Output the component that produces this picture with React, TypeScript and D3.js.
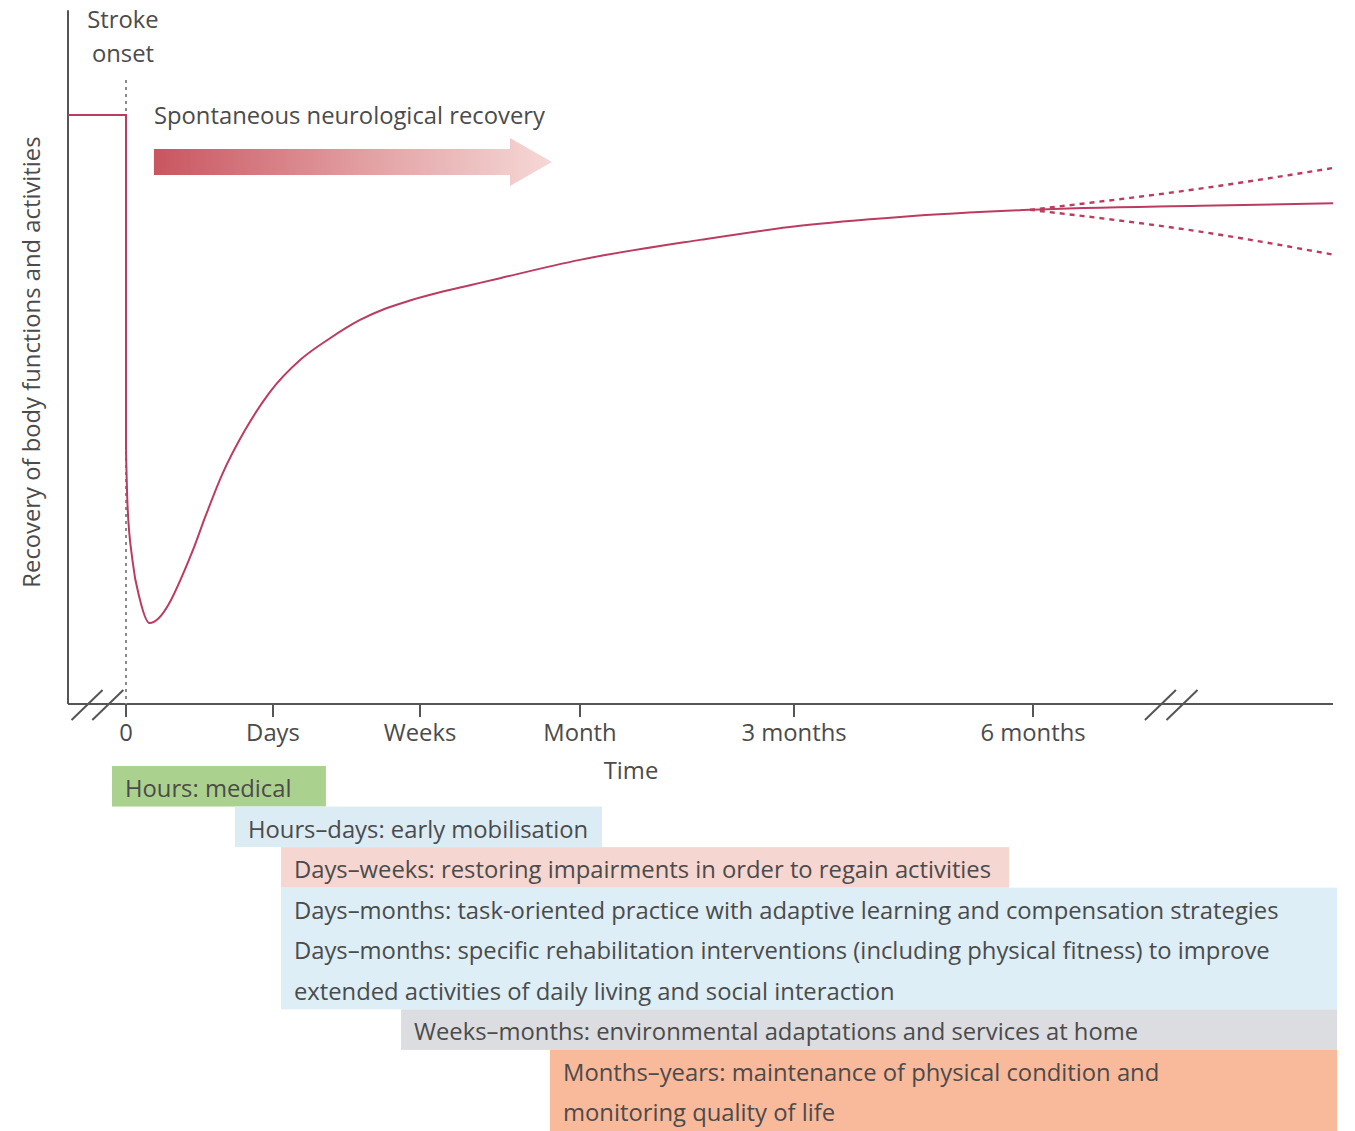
import React from "react";
import * as d3 from "d3";

// ---------- data ----------
const tickLabels = ["0", "Days", "Weeks", "Month", "3 months", "6 months"];
const tickValues = [0, 1, 2, 3, 4, 5];

// time index (0 = stroke onset, 1 = days, ... 5 = 6 months)
const preStrokeTime = [-0.4, 0, 0];
const preStrokeValue = [100, 100, 43.1];

const recoveryTime = [
  0, 0.0102, 0.044, 0.095, 0.16, 0.442, 0.544, 0.653, 0.81, 0.98, 1.184, 1.388, 1.592, 1.762, 1.932,
  2.125, 2.3125, 2.5, 3, 3.561, 4.025, 4.444, 4.987, 5.696, 6.25,
];
const recoveryValue = [
  43.1, 33.8, 24.4, 17.7, 13.75, 25.3, 32.1, 38.9, 46.5, 53.0, 58.4, 62.1, 65.2, 67.1, 68.5,
  69.9, 71.1, 72.3, 75.4, 78.8, 81.2, 82.7, 83.9, 84.6, 85.0,
];

const upperTime = [4.987, 5.696, 6.25];
const upperValue = [83.9, 87.5, 91.0];
const lowerTime = [4.987, 5.696, 6.25];
const lowerValue = [83.9, 80.2, 76.3];

const breakTimes = [-0.265, -0.122, 5.533, 5.623];

const phaseLabels = [
  ["Hours: medical"],
  ["Hours–days: early mobilisation"],
  ["Days–weeks: restoring impairments in order to regain activities"],
  [
    "Days–months: task-oriented practice with adaptive learning and compensation strategies",
    "Days–months: specific rehabilitation interventions (including physical fitness) to improve",
    "extended activities of daily living and social interaction",
  ],
  ["Weeks–months: environmental adaptations and services at home"],
  ["Months–years: maintenance of physical condition and", "monitoring quality of life"],
];
const phaseStart = [-0.097, 0.741, 1.054, 1.054, 1.871, 2.8125];
const phaseEnd = [1.36, 3.103, 4.9, 6.267, 6.267, 6.267];
const phaseRow = [0, 1, 2, 3, 6, 7];
const phaseColors = ["#abd18f", "#dcecf5", "#f6d6d0", "#ddeef6", "#dcdde0", "#f9b99b"];

const arrowStartTime = 0.19;
const arrowEndTime = 2.825;
const arrowLevel = 92;

// ---------- layout ----------
const W = 1355;
const H = 1131;
const FONT = "'Open Sans', 'Noto Sans', sans-serif";
const FS = 23.8;
const TEXT = "#4b4b4b";
const AXIS = "#555";
const CURVE = "#bb3c60";

const x = d3
  .scaleLinear()
  .domain([-0.4, 0, 1, 2, 3, 4, 5, 6.25])
  .range([68, 126, 273, 420, 580, 794, 1033, 1333]);
const y = d3.scaleLinear().domain([0, 100]).range([704, 115]);
const yTopValue = 117.8;

const rowY = d3.scaleLinear().domain([0, 9]).range([766, 1131]);

export default function App() {
  const linear = d3
    .line<number>()
    .x((i) => x(preStrokeTime[i]))
    .y((i) => y(preStrokeValue[i]))
    .curve(d3.curveLinear);
  const smooth = (ts: number[], vs: number[]) =>
    d3
      .line<number>()
      .x((i) => x(ts[i]))
      .y((i) => y(vs[i]))
      .curve(d3.curveMonotoneX)(d3.range(ts.length)) as string;

  const axisY = y(0);
  const ax0 = x(-0.4);
  const ax1 = x(6.25);

  const aStart = x(arrowStartTime);
  const aEnd = x(arrowEndTime);
  const aY = y(arrowLevel);
  const headLen = 42;
  const bodyH = 13;
  const headH = 24;
  const arrowPath = [
    [aStart, aY - bodyH],
    [aEnd - headLen, aY - bodyH],
    [aEnd - headLen, aY - headH],
    [aEnd, aY],
    [aEnd - headLen, aY + headH],
    [aEnd - headLen, aY + bodyH],
    [aStart, aY + bodyH],
  ];

  return (
    <svg
      width={W}
      height={H}
      style={{ position: "absolute", left: 0, top: 0, background: "#fff" }}
      fontFamily={FONT}
    >
      <defs>
        <linearGradient id="arrowGrad" x1="0" x2="1" y1="0" y2="0">
          <stop offset="0" stopColor="#c9555f" />
          <stop offset="0.55" stopColor="#e3a2a5" />
          <stop offset="1" stopColor="#f6d8d6" />
        </linearGradient>
      </defs>

      {/* y axis */}
      <line x1={ax0} x2={ax0} y1={y(yTopValue)} y2={axisY} stroke={AXIS} strokeWidth={2} />
      {/* x axis */}
      <line x1={ax0} x2={ax1} y1={axisY} y2={axisY} stroke={AXIS} strokeWidth={2} />
      {/* axis breaks */}
      {breakTimes.map((t, i) => (
        <line
          key={i}
          x1={x(t) - 16}
          y1={axisY + 16}
          x2={x(t) + 15}
          y2={axisY - 14}
          stroke={AXIS}
          strokeWidth={2}
        />
      ))}
      {/* ticks */}
      {tickValues.map((t, i) => (
        <g key={i}>
          <line x1={x(t)} x2={x(t)} y1={axisY} y2={axisY + 13} stroke={AXIS} strokeWidth={2} />
          <text x={x(t)} y={axisY + 37} textAnchor="middle" fontSize={FS} fill={TEXT}>
            {tickLabels[i]}
          </text>
        </g>
      ))}
      <text x={631} y={axisY + 75} textAnchor="middle" fontSize={FS} fill={TEXT}>
        Time
      </text>

      {/* y label */}
      <text
        transform={`translate(40, ${(y(0) + y(yTopValue)) / 2 + 5}) rotate(-90)`}
        textAnchor="middle"
        fontSize={FS}
        fill={TEXT}
      >
        Recovery of body functions and activities
      </text>

      {/* stroke onset */}
      <line x1={x(0)} x2={x(0)} y1={80} y2={axisY} stroke="#8a8a8a" strokeWidth={2} strokeDasharray="3,4" />
      <text x={x(0) - 3} y={28} textAnchor="middle" fontSize={FS} fill={TEXT}>
        Stroke
      </text>
      <text x={x(0) - 3} y={62} textAnchor="middle" fontSize={FS} fill={TEXT}>
        onset
      </text>

      {/* arrow */}
      <text x={aStart} y={aY - 38} fontSize={FS} fill={TEXT}>
        Spontaneous neurological recovery
      </text>
      <path d={"M" + arrowPath.map((p) => p.join(",")).join("L") + "Z"} fill="url(#arrowGrad)" />

      {/* curves */}
      <path d={linear(d3.range(preStrokeTime.length)) as string} fill="none" stroke={CURVE} strokeWidth={2} />
      <path d={smooth(recoveryTime, recoveryValue)} fill="none" stroke={CURVE} strokeWidth={2} />
      <path d={smooth(upperTime, upperValue)} fill="none" stroke={CURVE} strokeWidth={2.4} strokeDasharray="5,5" />
      <path d={smooth(lowerTime, lowerValue)} fill="none" stroke={CURVE} strokeWidth={2.4} strokeDasharray="5,5" />

      {/* phases */}
      {phaseLabels.map((lines, i) => {
        const top = rowY(phaseRow[i]);
        const bottom = rowY(phaseRow[i] + lines.length);
        const left = x(phaseStart[i]);
        const right = x(phaseEnd[i]);
        return (
          <g key={i}>
            <rect x={left} y={top} width={right - left} height={bottom - top} fill={phaseColors[i]} />
            {lines.map((l, j) => (
              <text key={j} x={left + 13} y={rowY(phaseRow[i] + j) + 31} fontSize={FS} fill={TEXT}>
                {l}
              </text>
            ))}
          </g>
        );
      })}
    </svg>
  );
}
